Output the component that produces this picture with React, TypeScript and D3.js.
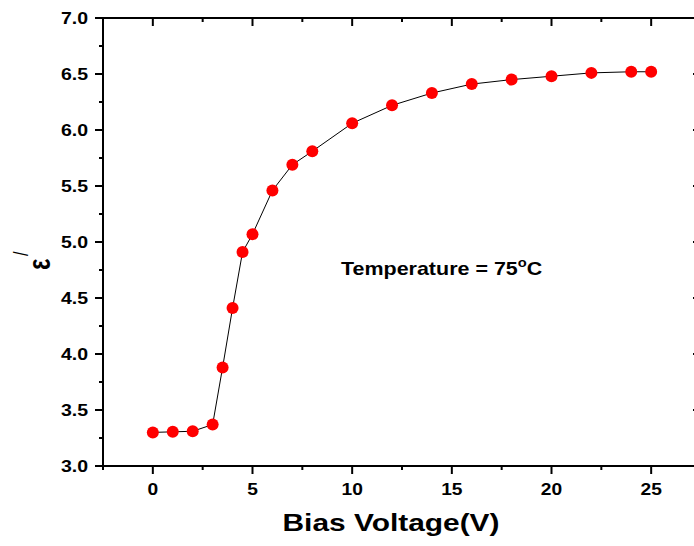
import React from "react";
import * as d3 from "d3";

const voltages = [0, 1, 2, 3, 3.5, 4, 4.5, 5, 6, 7, 8, 10, 12, 14, 16, 18, 20, 22, 24, 25];
const permittivity = [3.3, 3.305, 3.31, 3.37, 3.88, 4.41, 4.91, 5.07, 5.46, 5.69, 5.81, 6.06, 6.22, 6.33, 6.41, 6.45, 6.48, 6.51, 6.52, 6.52];
const xMajorTicks = [0, 5, 10, 15, 20, 25];
const xMinorTicks = [-2.5, 2.5, 7.5, 12.5, 17.5, 22.5];
const yMajorTicks = [3.0, 3.5, 4.0, 4.5, 5.0, 5.5, 6.0, 6.5, 7.0];
const yMinorTicks = [3.25, 3.75, 4.25, 4.75, 5.25, 5.75, 6.25, 6.75];

const W = 694;
const H = 546;
const left = 103;
const right = 701;
const top = 18;
const bottom = 466;
const font = "'Liberation Sans', Arial, sans-serif";

export default function App() {
  const x = d3.scaleLinear().domain([-2.5, 27.5]).range([left, right]);
  const y = d3.scaleLinear().domain([3.0, 7.0]).range([bottom, top]);
  const data = voltages.map((v, i) => [v, permittivity[i]] as [number, number]);
  const line = d3.line<[number, number]>().x((d) => x(d[0])).y((d) => y(d[1]));

  return (
    <svg width={W} height={H} style={{ position: "absolute", left: 0, top: 0, background: "#fff" }}>
      <rect x={0} y={0} width={W} height={H} fill="#fff" />
      {/* frame */}
      <rect x={left} y={top} width={right - left} height={bottom - top} fill="none" stroke="#000" strokeWidth={2} />
      {/* bottom ticks (outward) */}
      {xMajorTicks.map((t) => (
        <line key={"bx" + t} x1={x(t)} x2={x(t)} y1={bottom} y2={bottom + 8} stroke="#000" strokeWidth={2} />
      ))}
      {xMinorTicks.map((t) => (
        <line key={"bxm" + t} x1={x(t)} x2={x(t)} y1={bottom} y2={bottom + 4} stroke="#000" strokeWidth={2} />
      ))}
      {/* top ticks (inward) */}
      {xMajorTicks.map((t) => (
        <line key={"tx" + t} x1={x(t)} x2={x(t)} y1={top} y2={top + 8} stroke="#000" strokeWidth={2} />
      ))}
      {xMinorTicks.map((t) => (
        <line key={"txm" + t} x1={x(t)} x2={x(t)} y1={top} y2={top + 4} stroke="#000" strokeWidth={2} />
      ))}
      {/* left ticks (outward) */}
      {yMajorTicks.map((t) => (
        <line key={"ly" + t} x1={left - 8} x2={left} y1={y(t)} y2={y(t)} stroke="#000" strokeWidth={2} />
      ))}
      {yMinorTicks.map((t) => (
        <line key={"lym" + t} x1={left - 4} x2={left} y1={y(t)} y2={y(t)} stroke="#000" strokeWidth={2} />
      ))}
      {/* right ticks (inward) */}
      {yMajorTicks.map((t) => (
        <line key={"ry" + t} x1={right - 8} x2={right} y1={y(t)} y2={y(t)} stroke="#000" strokeWidth={2} />
      ))}
      {yMinorTicks.map((t) => (
        <line key={"rym" + t} x1={right - 4} x2={right} y1={y(t)} y2={y(t)} stroke="#000" strokeWidth={2} />
      ))}
      {/* tick labels */}
      {xMajorTicks.map((t) => (
        <text
          key={"xl" + t}
          transform={`translate(${x(t)},${bottom + 29}) scale(1.2,1)`}
          textAnchor="middle"
          fontFamily={font}
          fontWeight="bold"
          fontSize={16}
        >
          {t}
        </text>
      ))}
      {yMajorTicks.map((t) => (
        <text
          key={"yl" + t}
          transform={`translate(${left - 15},${y(t) + 6}) scale(1.22,1)`}
          textAnchor="end"
          fontFamily={font}
          fontWeight="bold"
          fontSize={16}
        >
          {t.toFixed(1)}
        </text>
      ))}
      {/* data line */}
      <path d={line(data) || ""} fill="none" stroke="#000" strokeWidth={1} />
      {data.map((d, i) => (
        <circle key={"p" + i} cx={x(d[0])} cy={y(d[1])} r={6} fill="#ff0000" />
      ))}
      {/* annotation */}
      <text transform="translate(341,275) scale(1.13,1)" fontFamily={font} fontWeight="bold" fontSize={19}>
        Temperature = 75
        <tspan dy={-8} fontSize={13}>o</tspan>
        <tspan dy={8}>C</tspan>
      </text>
      {/* axis titles */}
      <text transform="translate(391,531) scale(1.3,1)" textAnchor="middle" fontFamily={font} fontWeight="bold" fontSize={23}>
        Bias Voltage(V)
      </text>
      <g transform="translate(50,270) rotate(-90) scale(1,1.3)">
        <text x={0} y={0} fontFamily={font} fontWeight="bold" fontSize={24}>
          ε
        </text>
        <text x={14} y={-17} fontFamily={font} fontSize={16}>
          /
        </text>
      </g>
    </svg>
  );
}
